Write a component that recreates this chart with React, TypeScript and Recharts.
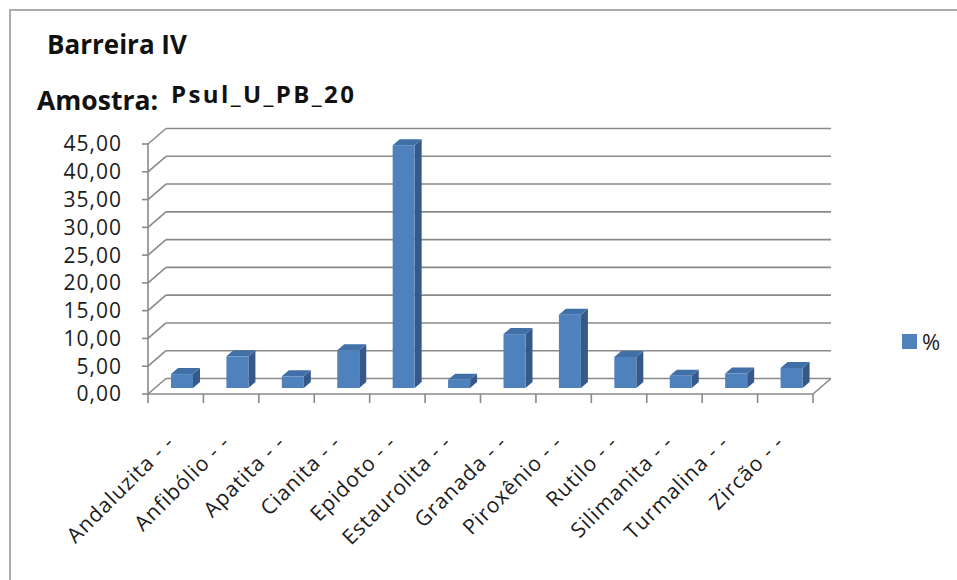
import React from 'react';
import {
  BarChart,
  Bar,
  XAxis,
  YAxis,
  CartesianGrid,
  Legend,
} from 'recharts';

// Heavy mineral percentages for the sample
const minerals = [
  'Andaluzita - -',
  'Anfibólio - -',
  'Apatita - -',
  'Cianita - -',
  'Epidoto - -',
  'Estaurolita - -',
  'Granada - -',
  'Piroxênio - -',
  'Rutilo - -',
  'Silimanita - -',
  'Turmalina - -',
  'Zircão - -',
];
const percentValues = [2.5, 5.7, 2.1, 6.8, 43.7, 1.5, 9.7, 13.2, 5.6, 2.2, 2.6, 3.6];
const yTicks = [0, 5, 10, 15, 20, 25, 30, 35, 40, 45];

const chartData = minerals.map((mineral, i) => ({ mineral, pct: percentValues[i] }));

// Frame geometry
const W = 957;
const H = 580;
const PLOT_LEFT = 148;
const PLOT_RIGHT = 813;
const PLOT_TOP = 144;
const PLOT_BOTTOM = 394;
const Y_AXIS_W = 100;
const X_AXIS_H = 60;

// Pseudo-3D offsets: back wall depth and the bars' position inside it
const WALL_DX = 18;
const WALL_DY = -15.5;
const LIFT_X = 6;
const LIFT_Y = -6;
const DEPTH_X = 7;
const DEPTH_Y = -6;

const FONT = '"Open Sans", sans-serif';
const GRID = '#8a8a8a';
const FRONT = '#4F81BD';
const SIDE = '#36598A';
const TOP = '#416FA8';
const INK = '#1c1c1c';

const bandWidth = (PLOT_RIGHT - PLOT_LEFT) / minerals.length;

const fmt = (v: number) => v.toFixed(2).replace('.', ',');

function Bar3D(props: any) {
  const { x, y, width, height } = props;
  if (height == null || width == null) return null;
  const fx = x + LIFT_X;
  const fy = y + LIFT_Y;
  const bottom = fy + height;
  const top = `${fx},${fy} ${fx + width},${fy} ${fx + width + DEPTH_X},${fy + DEPTH_Y} ${fx + DEPTH_X},${fy + DEPTH_Y}`;
  const side = `${fx + width},${fy} ${fx + width + DEPTH_X},${fy + DEPTH_Y} ${fx + width + DEPTH_X},${bottom + DEPTH_Y} ${fx + width},${bottom}`;
  return (
    <g>
      <polygon points={side} fill={SIDE} />
      <polygon points={top} fill={TOP} />
      <rect x={fx} y={fy} width={width} height={height} fill={FRONT} />
    </g>
  );
}

// Back-wall gridline plus the diagonal on the side wall
function WallLine(props: any) {
  const { x1, x2, y1 } = props;
  const isFloor = Math.abs(y1 - PLOT_BOTTOM) < 0.5;
  return (
    <g key={props.key}>
      <line x1={x1} y1={y1} x2={x1 + WALL_DX} y2={y1 + WALL_DY} stroke={GRID} strokeWidth={1.6} />
      <line x1={x1 + WALL_DX} y1={y1 + WALL_DY} x2={x2 + WALL_DX} y2={y1 + WALL_DY} stroke={GRID} strokeWidth={1.6} />
      {isFloor && (
        <line x1={x2} y1={y1} x2={x2 + WALL_DX} y2={y1 + WALL_DY} stroke={GRID} strokeWidth={1.6} />
      )}
    </g>
  );
}

function MineralTick(props: any) {
  const { x, y, payload, index } = props;
  const left = x - bandWidth / 2;
  return (
    <g>
      <line x1={left} y1={y} x2={left} y2={y + 9} stroke={GRID} strokeWidth={1.6} />
      {index === minerals.length - 1 && (
        <line x1={x + bandWidth / 2} y1={y} x2={x + bandWidth / 2} y2={y + 9} stroke={GRID} strokeWidth={1.6} />
      )}
      <text
        x={x}
        y={y + 50}
        textAnchor="end"
        transform={`rotate(-45, ${x}, ${y + 50})`}
        fill={INK}
        fontSize={21}
        fontWeight={500}
        fontFamily={FONT}
        letterSpacing={1}
      >
        {payload.value}
      </text>
    </g>
  );
}

function LegendBox() {
  return (
    <div style={{ display: 'flex', alignItems: 'center', fontFamily: FONT, fontSize: 22, fontWeight: 500, color: INK }}>
      <span style={{ display: 'inline-block', width: 15, height: 15, background: FRONT, marginRight: 5 }} />
      <span>%</span>
    </div>
  );
}

export default function App() {
  return (
    <div style={{ position: 'absolute', left: 0, top: 0, width: W, height: H, overflow: 'hidden', background: '#fff' }}>
      <svg width={W} height={H} style={{ position: 'absolute', left: 0, top: 0 }}>
        <rect x={10} y={10} width={W + 20} height={H + 20} fill="none" stroke="#ababab" strokeWidth={2} />
        <text x={47} y={54} fontFamily={FONT} fontWeight={700} fontSize={26} fill="#111">
          Barreira IV
        </text>
        <text x={37} y={110} fontFamily={FONT} fontWeight={700} fontSize={26.5} fill="#111">
          Amostra:
        </text>
        <text x={171} y={103} fontFamily={FONT} fontWeight={700} fontSize={24} letterSpacing={2.4} fill="#111">
          Psul_U_PB_20
        </text>
      </svg>
      <div style={{ position: 'absolute', left: 0, top: 0 }}>
        <BarChart
          width={W}
          height={H}
          data={chartData}
          margin={{
            top: PLOT_TOP,
            right: W - PLOT_RIGHT,
            bottom: H - PLOT_BOTTOM - X_AXIS_H,
            left: PLOT_LEFT - Y_AXIS_W,
          }}
          barSize={22}
        >
          <CartesianGrid vertical={false} horizontal={WallLine} />
          <XAxis
            dataKey="mineral"
            height={X_AXIS_H}
            interval={0}
            axisLine={{ stroke: GRID, strokeWidth: 1.6 }}
            tickLine={false}
            tickSize={0}
            tickMargin={0}
            tick={<MineralTick />}
          />
          <YAxis
            width={Y_AXIS_W}
            domain={[0, 45]}
            ticks={yTicks}
            interval={0}
            axisLine={{ stroke: GRID, strokeWidth: 1.6 }}
            tickLine={{ stroke: GRID, strokeWidth: 1.6 }}
            tickSize={6}
            tickMargin={20}
            tickFormatter={fmt}
            tick={{ fill: INK, fontSize: 21, fontWeight: 500, fontFamily: FONT, letterSpacing: 1 }}
          />
          <Legend
            layout="horizontal"
            align="center"
            verticalAlign="middle"
            content={<LegendBox />}
            wrapperStyle={{ left: 902, top: 326, width: 60, height: 26 }}
          />
          <Bar dataKey="pct" name="%" shape={<Bar3D />} isAnimationActive={false} />
        </BarChart>
      </div>
    </div>
  );
}
